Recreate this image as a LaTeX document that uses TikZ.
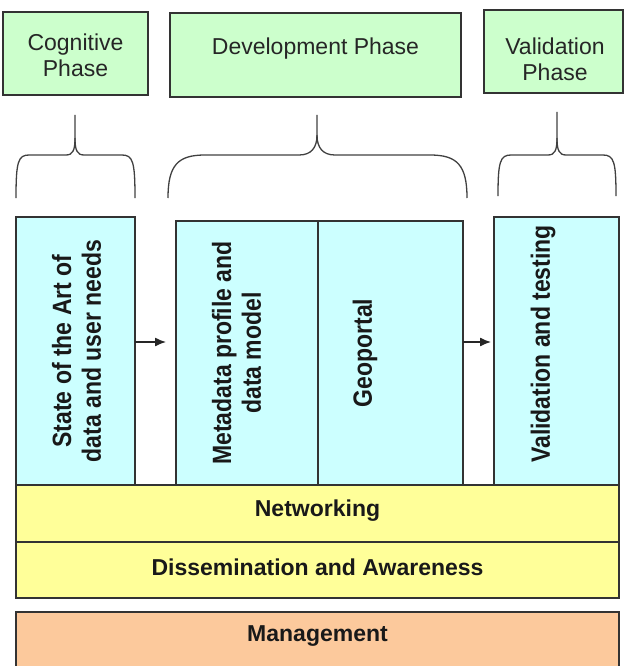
\documentclass[tikz,border=0pt]{standalone}
\usepackage{fontspec}
\usepackage{graphicx}
\setmainfont{Liberation Sans}
\usetikzlibrary{arrows.meta}
\definecolor{phasegreen}{HTML}{CCFFCC}
\definecolor{taskblue}{HTML}{CCFFFF}
\definecolor{bandyellow}{HTML}{FFFF99}
\definecolor{mgmtorange}{HTML}{FCC99C}
\definecolor{edgegray}{HTML}{333333}
\newcommand\vstretchtext[1]{\scalebox{1}[1.15]{#1}}
\tikzset{
  boxbase/.style={draw=edgegray, line width=1.2pt, inner sep=0pt, outer sep=0pt},
  phasebox/.style={boxbase, fill=phasegreen},
  taskbox/.style={boxbase, fill=taskblue},
  bandbox/.style={boxbase, fill=bandyellow},
  mgmtbox/.style={boxbase, fill=mgmtorange},
  phasetext/.style={align=center, inner sep=0pt, font=\fontsize{23}{26}\selectfont, text=black!85},
  vtext/.style={rotate=90, inner sep=0pt, font=\fontsize{23}{26}\selectfont\bfseries, text=black!90},
  bandtext/.style={inner sep=0pt, font=\fontsize{23}{26}\selectfont\bfseries, text=black!90},
  bracepath/.style={draw=black!75, line width=1.3pt},
  flowarrow/.style={draw=black!85, line width=1.3pt, -{Latex[length=11pt,width=9pt]}}
}
\begin{document}
\begin{tikzpicture}[x=1pt,y=-1pt]
\useasboundingbox (0,0) rectangle (626,666);
% phase boxes
\node[phasebox, minimum width=145pt, minimum height=83pt] (cog) at (75.5,53.5) {};
\node[phasebox, minimum width=291pt, minimum height=84pt] (dev) at (315.5,55) {};
\node[phasebox, minimum width=139pt, minimum height=83pt] (valp) at (553.5,51.5) {};
\node[phasetext] (cogt) at (75.5,55) {Cognitive\\Phase};
\node[phasetext] (devt) at (315.5,49) {Development Phase};
\node[phasetext] (valpt) at (555,59) {Validation\\Phase};
% braces
\draw[bracepath] (16,198) .. controls (16,162) and (18,155) .. (29,155) -- (66,155)
  .. controls (73,155) and (75,150) .. (75,138) -- (75,115);
\draw[bracepath] (135,198) .. controls (135,162) and (133,155) .. (122,155) -- (84,155)
  .. controls (77,155) and (75,150) .. (75,138);
\draw[bracepath] (168,198) .. controls (168,165) and (178,155) .. (205,155) -- (299,155)
  .. controls (311,155) and (317,148) .. (317,135) -- (317,115);
\draw[bracepath] (467,198) .. controls (467,165) and (457,155) .. (430,155) -- (335,155)
  .. controls (323,155) and (317,148) .. (317,135);
\draw[bracepath] (498,196) .. controls (498,162) and (500,155) .. (511,155) -- (548,155)
  .. controls (555,155) and (557,150) .. (557,138) -- (557,112);
\draw[bracepath] (616,196) .. controls (616,162) and (614,155) .. (603,155) -- (566,155)
  .. controls (559,155) and (557,150) .. (557,138);
% task boxes
\node[taskbox, minimum width=119pt, minimum height=268pt] (state) at (75.5,351) {};
\node[taskbox, minimum width=142pt, minimum height=264pt] (meta) at (247,353) {};
\node[taskbox, minimum width=145pt, minimum height=264pt] (geo) at (390.5,353) {};
\node[taskbox, minimum width=125pt, minimum height=268pt] (valt) at (556.5,351) {};
\node[vtext] (statet) at (80,351) {\vstretchtext{\begin{tabular}{@{}c@{}}State of the Art of\\data and user needs\end{tabular}}};
\node[vtext] (metat) at (240,353) {\vstretchtext{\begin{tabular}{@{}c@{}}Metadata profile and\\data model\end{tabular}}};
\node[vtext] (geot) at (365,353) {\vstretchtext{Geoportal}};
\node[vtext] (valtt) at (543,344) {\vstretchtext{Validation and testing}};
% arrows
\coordinate (arrowrow) at (0,342);
\draw[flowarrow, shorten >=10pt] (state.east |- arrowrow) -- (meta.west |- arrowrow);
\draw[flowarrow, shorten >=3pt] (geo.east |- arrowrow) -- (valt.west |- arrowrow);
% bands
\node[bandbox, minimum width=603pt, minimum height=57pt] (net) at (317.5,513.5) {};
\node[bandbox, minimum width=603pt, minimum height=56pt] (dis) at (317.5,570) {};
\node[mgmtbox, minimum width=603pt, minimum height=56pt] (mgmt) at (317.5,640) {};
\node[bandtext] (nett) at (317.5,511) {Networking};
\node[bandtext] (dist) at (317.5,567) {Dissemination and Awareness};
\node[bandtext] (mgmtt) at (317.5,636) {Management};
\end{tikzpicture}
\end{document}
